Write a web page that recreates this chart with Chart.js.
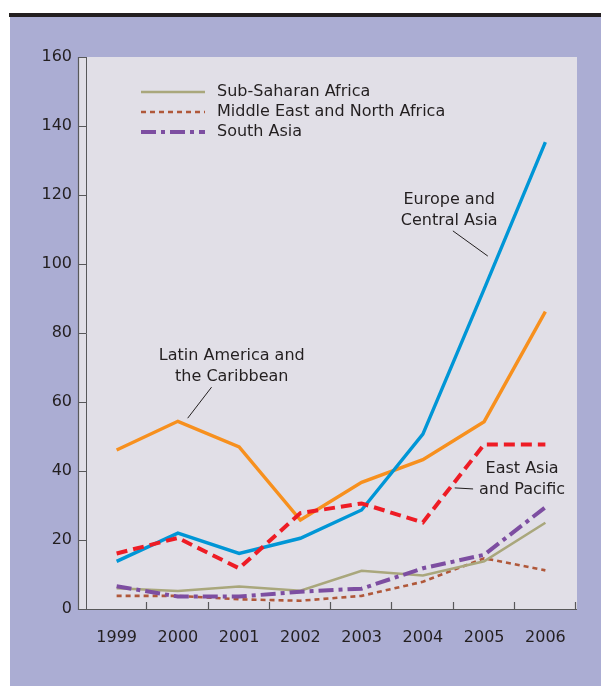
<!DOCTYPE html>
<html>
<head>
<meta charset="utf-8">
<script src="https://cdn.jsdelivr.net/npm/chart.js@4.4.1/dist/chart.umd.min.js"></script>
<style>body{margin:0;background:#fff}canvas{display:block}</style>
</head>
<body>
<canvas id="c" width="601" height="686"></canvas>
<script>
const years = ['1999','2000','2001','2002','2003','2004','2005','2006'];
const yTicks = [0,20,40,60,80,100,120,140,160];

const subSaharan  = [6.0, 5.2, 6.5, 5.3, 11.1, 9.7, 13.8, 25.0];
const midEast     = [3.8, 3.8, 2.8, 2.4, 3.8, 7.9, 14.7, 11.2];
const southAsia   = [6.6, 3.6, 3.6, 5.0, 5.9, 11.8, 15.7, 29.5];
const europeCA    = [13.8, 22.0, 16.1, 20.5, 28.7, 50.7, 92.7, 135.3];
const latinAm     = [46.1, 54.4, 47.0, 25.8, 36.7, 43.3, 54.3, 86.2];
const eastAsia    = [16.1, 20.6, 11.8, 27.8, 30.6, 25.1, 47.7, 47.7];

const FONT = {family:'"DejaVu Sans", sans-serif', size:16};
const INK = '#231F20';

// labels written on the plot, placed in data units (x = category index, y = value)
const notes = [
	{text:['Europe and','Central Asia'], x:5.43, y:115.5, from:[5.49,109.6], to:[6.06,102.3]},
	{text:['Latin America and','the Caribbean'], x:1.88, y:70.4, from:[1.55,64.3], to:[1.16,55.3]},
	{text:['East Asia','and Pacific'], x:6.62, y:37.7, from:[5.82,34.8], to:[5.52,35.1]},
];

const frame = {
	id:'frame',
	beforeDraw: c => {
		const x = c.ctx, a = c.chartArea;
		x.save();
		x.fillStyle = '#fff'; x.fillRect(0,0,c.width,c.height);
		x.fillStyle = '#ABADD3'; x.fillRect(10,17,c.width-10,c.height-17);
		x.fillStyle = INK; x.fillRect(9,13,c.width-9,4);
		x.fillStyle = '#E1DFE7'; x.fillRect(a.left-8, a.top, a.right-a.left+9, a.bottom-a.top);
		x.strokeStyle = '#58585A'; x.lineWidth = 1.2;
		x.beginPath();
		x.moveTo(a.left-7.5, a.top); x.lineTo(a.left-7.5, a.bottom+0.5); x.lineTo(a.right+1, a.bottom+0.5);
		// category boundary ticks pointing up
		const sx = c.scales.x;
		for (let i=0; i<years.length; i++) {
			const p = Math.round(sx.getPixelForValue(i+0.5)) - 0.5;
			x.moveTo(p, a.bottom); x.lineTo(p, a.bottom-7);
		}
		x.stroke();
		x.restore();
	},
	afterDraw: c => {
		const x = c.ctx, a = c.chartArea, sx = c.scales.x, sy = c.scales.y;
		x.save();
		x.font = `${FONT.size}px ${FONT.family}`;
		x.fillStyle = INK; x.textBaseline = 'middle';
		// legend for the three low series
		c.data.datasets.slice(0,3).forEach((d,i) => {
			const y = a.top + 35 + i*20;
			x.save();
			x.strokeStyle = d.borderColor; x.lineWidth = d.borderWidth;
			x.setLineDash(d.borderDash || []);
			x.beginPath(); x.moveTo(a.left+55, y); x.lineTo(a.left+119, y); x.stroke();
			x.restore();
			x.textAlign = 'left';
			x.fillText(d.label, a.left+131, y);
		});
		// notes + leader lines
		x.textAlign = 'center';
		notes.forEach(n => {
			const cx = sx.getPixelForValue(n.x), cy = sy.getPixelForValue(n.y);
			n.text.forEach((t,j) => x.fillText(t, cx, cy + (j - (n.text.length-1)/2)*21));
			x.strokeStyle = INK; x.lineWidth = 1;
			x.beginPath();
			x.moveTo(sx.getPixelForValue(n.from[0]), sy.getPixelForValue(n.from[1]));
			x.lineTo(sx.getPixelForValue(n.to[0]), sy.getPixelForValue(n.to[1]));
			x.stroke();
		});
		x.restore();
	}
};

const line = (label, data, color, width, dash, order) => ({
	label, data, borderColor:color, borderWidth:width, borderDash:dash,
	pointRadius:0, tension:0, fill:false, borderCapStyle:'butt', order
});

new Chart(document.getElementById('c'), {
	type:'line',
	data:{
		labels:years,
		datasets:[
			line('Sub-Saharan Africa', subSaharan, '#A9A77C', 2.6, [], 3),
			line('Middle East and North Africa', midEast, '#B0583A', 2.6, [5,4], 4),
			line('South Asia', southAsia, '#7D4EA1', 4, [15,5,4,5], 1),
			line('Europe and Central Asia', europeCA, '#0096D6', 3.4, [], 5),
			line('Latin America and the Caribbean', latinAm, '#F7901E', 3.4, [], 6),
			line('East Asia and Pacific', eastAsia, '#EE1C25', 4, [11,6], 2),
		]
	},
	options:{
		responsive:false, animation:false,
		layout:{padding:{left:10, right:25, top:57, bottom:27}},
		plugins:{legend:{display:false}, tooltip:{enabled:false}},
		scales:{
			x:{
				offset:true,
				grid:{display:false}, border:{display:false},
				ticks:{font:FONT, color:INK, padding:11, maxRotation:0, autoSkip:false},
				afterFit: s => { s.height = 50; }
			},
			y:{
				min:0, max:160,
				afterBuildTicks: s => { s.ticks = yTicks.map(v => ({value:v})); },
				grid:{drawOnChartArea:false, tickLength:8, color:'#58585A'},
				border:{color:'#58585A'},
				ticks:{font:FONT, color:INK, padding:6},
				afterFit: s => { s.width = 76; }
			}
		}
	},
	plugins:[frame]
});
</script>
</body>
</html>
